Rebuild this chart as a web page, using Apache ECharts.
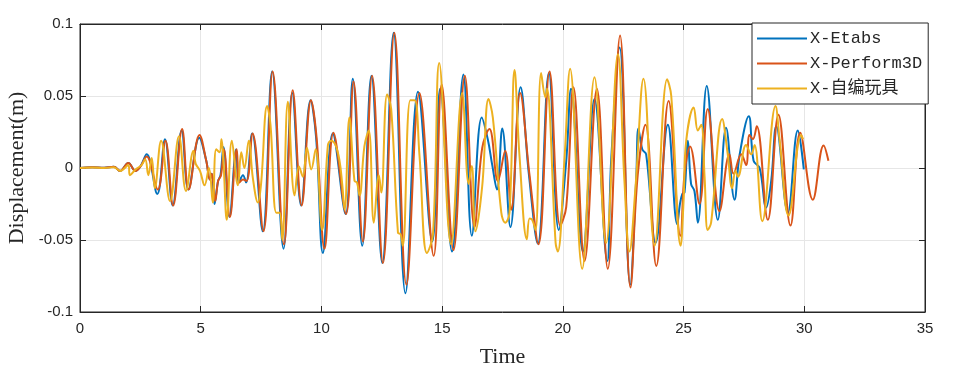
<!DOCTYPE html>
<html><head><meta charset="utf-8">
<script src="https://cdn.jsdelivr.net/npm/echarts@6/dist/echarts.min.js"></script>
<style>html,body{margin:0;padding:0;background:#fff}#c{width:957px;height:367px}</style>
</head><body><div id="c"></div>
<script>
const seriesNames = ['X-Etabs', 'X-Perform3D', 'X-自编玩具'];
const xTicks = [0, 5, 10, 15, 20, 25, 30, 35];
const yTicks = [-0.1, -0.05, 0, 0.05, 0.1];

const etabsT = [0,0.5,1.0,1.4,1.66,2.0,2.3,2.5,2.76,3.2,3.52,3.84,4.21,4.49,4.94,5.23,5.38,5.46,5.57,5.72,5.82,5.94,6.19,6.47,6.58,6.75,6.88,7.13,7.57,7.96,8.43,8.79,9.16,9.55,9.78,10.06,10.47,11.0,11.3,11.69,12.07,12.52,12.99,13.48,14.0,14.59,14.92,15.41,15.88,16.23,16.64,16.89,17.07,17.27,17.49,17.83,18.25,18.59,18.96,19.42,19.83,20.14,20.34,20.83,21.31,21.84,22.0,22.35,22.79,23.04,23.13,23.29,23.45,23.84,24.35,24.74,24.85,24.95,25.04,25.18,25.31,25.45,25.59,25.96,26.42,26.76,27.11,27.32,27.7,27.9,28.15,28.42,28.63,28.84,29.32,29.73,29.98];
const etabsV = [0,0.0005,0.0002,0.0008,-0.002,0.0035,-0.002,0.001,0.0095,-0.018,0.020,-0.026,0.026,-0.015,0.021,0.005,-0.008,-0.004,-0.025,-0.009,-0.005,0.0146,-0.034,0.013,-0.010,-0.005,-0.010,0.024,-0.044,0.067,-0.056,0.052,-0.026,0.047,0.021,-0.059,0.024,-0.032,0.062,-0.054,0.064,-0.066,0.094,-0.087,0.053,-0.051,0.055,-0.058,0.065,-0.047,0.035,0.020,0.0025,-0.015,0.0275,-0.041,0.056,-0.004,-0.0525,0.066,-0.043,0.005,0.055,-0.058,0.048,-0.0646,0.005,0.0836,-0.081,-0.007,0.0275,0.013,0.0095,-0.052,0.030,-0.039,-0.025,-0.018,-0.017,0.019,-0.011,-0.016,-0.038,0.057,-0.036,0.028,-0.022,0.009,0.036,0.005,0,-0.0275,-0.009,0.029,-0.031,0.026,-0.001];

const perfT = [0,0.5,1.0,1.4,1.66,2.0,2.3,2.5,2.76,3.22,3.54,3.86,4.23,4.5,4.95,5.23,5.38,5.46,5.6,5.72,5.84,5.96,6.21,6.49,6.6,6.75,6.9,7.15,7.6,7.98,8.45,8.81,9.18,9.57,9.8,10.13,10.5,11.02,11.33,11.72,12.1,12.55,13.02,13.52,14.06,14.65,14.98,15.47,15.94,16.34,16.66,16.96,17.31,17.61,17.86,18.23,18.62,18.99,19.45,19.89,20.14,20.44,20.9,21.41,21.86,22.37,22.8,23.1,23.42,23.87,24.38,24.87,25.04,25.27,25.66,26.0,26.49,26.9,27.07,27.39,27.59,27.73,27.87,28.03,28.49,28.93,29.43,29.83,30.35,30.8,31.0];
const perfV = [0,0.0005,0.0002,0.0008,-0.002,0.0035,-0.002,0.001,0.008,-0.015,0.019,-0.026,0.027,-0.015,0.023,0.005,-0.008,-0.004,-0.023,-0.009,-0.005,0.013,-0.034,0.013,-0.010,-0.008,-0.009,0.024,-0.044,0.067,-0.053,0.054,-0.026,0.047,0.021,-0.056,0.0245,-0.032,0.060,-0.051,0.064,-0.066,0.094,-0.081,0.052,-0.061,0.058,-0.057,0.064,-0.041,0.014,0.027,-0.009,0.012,-0.029,0.052,-0.005,-0.053,0.067,-0.040,-0.027,0.056,-0.0646,0.055,-0.070,0.092,-0.083,-0.005,0.030,-0.068,0.0465,-0.047,-0.004,0.015,-0.025,0.041,-0.030,0.0095,-0.004,0.0095,0.002,0.023,0.020,0.029,-0.036,0.037,-0.040,0.0245,-0.022,0.0157,0.005];

const selfT = [0,0.5,1.0,1.4,1.66,2.0,2.07,2.3,2.55,2.7,2.83,2.97,3.1,3.36,3.73,4.1,4.39,4.7,4.79,4.97,5.16,5.34,5.5,5.64,5.78,5.86,5.94,6.08,6.29,6.54,6.68,6.81,6.99,7.16,7.37,7.5,7.75,7.89,8.13,8.27,8.38,8.61,8.89,9.07,9.23,9.4,9.58,9.76,10.03,10.27,10.4,10.58,10.75,10.86,10.96,11.16,11.37,11.47,11.58,11.78,11.96,12.17,12.38,12.48,12.72,12.89,13.17,13.28,13.37,13.68,13.86,14.06,14.37,14.62,14.88,15.37,15.83,16.1,16.23,16.38,16.66,16.92,17.1,17.45,17.61,17.79,18.0,18.2,18.51,18.62,18.73,18.87,19.1,19.28,19.34,19.7,19.79,20.07,20.3,20.8,21.31,21.79,22.28,22.55,22.76,23.01,23.34,23.8,24.32,24.49,24.88,25.0,25.11,25.42,25.59,25.73,25.87,26.0,26.14,26.6,26.83,27.01,27.15,27.25,27.59,27.8,27.94,28.26,28.81,28.97,29.35,29.87,29.95];
const selfV = [0,0.0003,0,0.0005,-0.002,0.002,-0.005,-0.001,0.002,0.006,-0.005,0.007,-0.014,0.019,-0.023,0.022,-0.016,0.012,0.003,-0.002,-0.012,0,-0.024,0.013,0.011,0.020,0.005,-0.036,0.019,-0.012,0.011,0,0.019,-0.007,-0.024,-0.011,0.043,0.030,-0.031,-0.031,-0.050,0.046,-0.019,0.001,-0.006,0.014,-0.001,0.013,-0.043,0.016,0.019,0.016,0.005,-0.011,-0.029,0.035,-0.009,-0.010,-0.019,0.015,0.026,-0.038,-0.005,-0.017,0.051,0.041,-0.045,-0.046,-0.054,0.047,0.047,0.009,-0.059,-0.046,0.073,-0.053,0.052,-0.011,0.0014,-0.044,-0.0125,0.048,0.035,-0.031,-0.038,-0.031,0.068,0.0095,-0.0495,-0.035,-0.036,-0.043,0.066,0.049,0.055,-0.052,-0.058,0.007,0.069,-0.070,0.063,-0.052,0.079,-0.009,-0.058,-0.013,0.062,-0.054,0.0616,0.050,-0.054,-0.023,0.019,0.042,0.026,0.030,-0.006,-0.043,-0.038,0.034,0.0095,-0.014,-0.002,-0.006,0.016,0.0095,0.016,-0.037,0.043,0.021,-0.033,0.023,0.020];

const colors = ['#0072BD', '#D95319', '#EDB120'];
const pairs = (t, v) => t.map((x, i) => [x, v[i]]);
const dataSets = [pairs(etabsT, etabsV), pairs(perfT, perfV), pairs(selfT, selfV)];

const chart = echarts.init(document.getElementById('c'), null, {renderer: 'canvas'});
const axisText = {color: '#262626', fontFamily: 'Liberation Sans, Arial', fontSize: 15};
chart.setOption({
  animation: false,
  backgroundColor: '#fff',
  grid: {left: 80, right: 32, top: 24, bottom: 55, containLabel: false, outerBoundsMode: 'none', show: true, borderColor: '#262626', borderWidth: 1, backgroundColor: '#fff'},
  legend: {
    orient: 'vertical', left: 752, top: 23,
    data: seriesNames,
    icon: 'rect', itemWidth: 50, itemHeight: 2, itemGap: 8,
    padding: [7, 6, 7, 5],
    backgroundColor: '#fff', borderColor: '#262626', borderWidth: 1, borderRadius: 0,
    textStyle: {fontFamily: 'Liberation Mono, Noto Sans CJK SC', fontSize: 17, color: '#262626', padding: [0,0,0,-2]}
  },
  xAxis: [{
    type: 'value', min: 0, max: 35, interval: 5,
    name: 'Time', nameLocation: 'middle', nameGap: 34,
    nameTextStyle: {fontFamily: 'Liberation Serif, Times New Roman', fontSize: 22, color: '#262626'},
    axisLine: {show: true, onZero: false, lineStyle: {color: '#262626'}},
    axisTick: {show: true, inside: true, length: 6, lineStyle: {color: '#262626'}},
    axisLabel: Object.assign({margin: 9, formatter: v => xTicks.includes(v) ? String(v) : ''}, axisText),
    splitLine: {show: true, lineStyle: {color: '#e6e6e6', width: 1}}
  }, {
    type: 'value', min: 0, max: 35, interval: 5, position: 'top',
    axisLine: {show: true, onZero: false, lineStyle: {color: '#262626'}},
    axisTick: {show: true, inside: true, length: 6, lineStyle: {color: '#262626'}},
    axisLabel: {show: false}, splitLine: {show: false}
  }],
  yAxis: [{
    type: 'value', min: -0.1, max: 0.1, interval: 0.05,
    name: 'Displacement(m)', nameLocation: 'middle', nameGap: 41,
    nameTextStyle: {fontFamily: 'Liberation Serif, Times New Roman', fontSize: 22, color: '#262626'},
    axisLine: {show: true, onZero: false, lineStyle: {color: '#262626'}},
    axisTick: {show: true, inside: true, length: 6, lineStyle: {color: '#262626'}},
    axisLabel: Object.assign({margin: 7, formatter: v => { const m = yTicks.find(t => Math.abs(t - v) < 1e-9); return m === undefined ? '' : String(m); }}, axisText),
    splitLine: {show: true, lineStyle: {color: '#e6e6e6', width: 1}}
  }, {
    type: 'value', min: -0.1, max: 0.1, interval: 0.05, position: 'right',
    axisLine: {show: true, onZero: false, lineStyle: {color: '#262626'}},
    axisTick: {show: true, inside: true, length: 6, lineStyle: {color: '#262626'}},
    axisLabel: {show: false}, splitLine: {show: false}
  }],
  series: seriesNames.map((n, i) => ({
    name: n, type: 'line', data: dataSets[i], showSymbol: false, symbol: 'none',
    smooth: 0.4, xAxisIndex: 0, yAxisIndex: 0,
    lineStyle: {color: colors[i], width: 2}, itemStyle: {color: colors[i]}, z: 2 + i
  }))
});
</script></body></html>
